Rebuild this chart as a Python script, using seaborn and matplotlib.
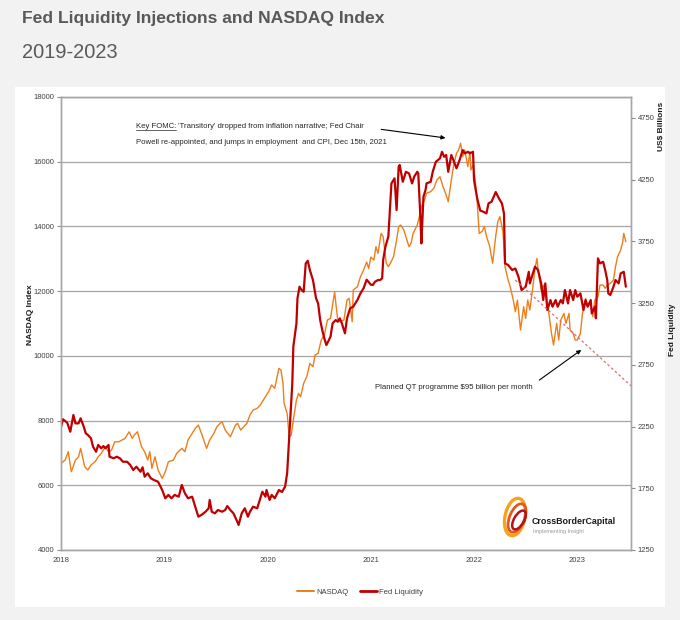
import numpy as np
import pandas as pd
import seaborn as sns
import matplotlib.pyplot as plt
from matplotlib.patches import Rectangle, Ellipse
from matplotlib.lines import Line2D

# NASDAQ index (left axis), decimal years
nasdaq_t = [2018.00, 2018.04, 2018.07, 2018.10, 2018.14, 2018.17, 2018.19, 2018.23, 2018.26, 2018.29,
            2018.33, 2018.36, 2018.39, 2018.43, 2018.46, 2018.49, 2018.52, 2018.56, 2018.59, 2018.62,
            2018.66, 2018.69, 2018.71, 2018.74, 2018.78, 2018.81, 2018.84, 2018.86, 2018.88, 2018.91,
            2018.94, 2018.98, 2019.01, 2019.04, 2019.09, 2019.12, 2019.17, 2019.20, 2019.23, 2019.27,
            2019.30, 2019.33, 2019.36, 2019.41, 2019.44, 2019.48, 2019.51, 2019.54, 2019.56, 2019.59,
            2019.64, 2019.69, 2019.71, 2019.74, 2019.80, 2019.83, 2019.86, 2019.90, 2019.93, 2019.98,
            2020.01, 2020.04, 2020.07, 2020.11, 2020.13, 2020.15, 2020.16, 2020.19, 2020.21, 2020.23,
            2020.25, 2020.28, 2020.30, 2020.32, 2020.35, 2020.38, 2020.41, 2020.44, 2020.46, 2020.49,
            2020.52, 2020.55, 2020.58, 2020.61, 2020.65, 2020.66, 2020.68, 2020.70, 2020.74, 2020.77,
            2020.79, 2020.82, 2020.83, 2020.87, 2020.90, 2020.93, 2020.96, 2020.98, 2021.00, 2021.03,
            2021.05, 2021.07, 2021.10, 2021.12, 2021.15, 2021.17, 2021.19, 2021.22, 2021.25, 2021.27,
            2021.29, 2021.32, 2021.34, 2021.37, 2021.39, 2021.41, 2021.45, 2021.47, 2021.49, 2021.52,
            2021.54, 2021.58, 2021.61, 2021.64, 2021.67, 2021.70, 2021.73, 2021.75, 2021.78, 2021.80,
            2021.83, 2021.85, 2021.87, 2021.89, 2021.91, 2021.94, 2021.96, 2021.97, 2021.99, 2022.01,
            2022.03, 2022.05, 2022.08, 2022.10, 2022.12, 2022.15, 2022.18, 2022.21, 2022.23, 2022.25,
            2022.28, 2022.30, 2022.33, 2022.35, 2022.38, 2022.40, 2022.42, 2022.45, 2022.48, 2022.50,
            2022.52, 2022.54, 2022.57, 2022.59, 2022.61, 2022.62, 2022.65, 2022.67, 2022.70, 2022.72,
            2022.75, 2022.77, 2022.80, 2022.82, 2022.84, 2022.87, 2022.89, 2022.92, 2022.93, 2022.96,
            2022.98, 2023.00, 2023.03, 2023.05, 2023.08, 2023.10, 2023.13, 2023.15, 2023.17, 2023.20,
            2023.22, 2023.25, 2023.27, 2023.29, 2023.32, 2023.35, 2023.37, 2023.39, 2023.42, 2023.44,
            2023.45, 2023.47]
nasdaq_v = [6677, 6780, 7037, 6418, 6780, 6882, 7141, 6572, 6471, 6625,
            6727, 6882, 6987, 7191, 7037, 7089, 7345, 7345, 7398, 7450,
            7654, 7450, 7552, 7654, 7191, 7037, 6780, 7037, 6523, 6882,
            6471, 6214, 6418, 6727, 6780, 6987, 7141, 7037, 7398, 7605,
            7759, 7862, 7605, 7141, 7398, 7605, 7809, 7914, 7964, 7707,
            7500, 7862, 7914, 7707, 7914, 8171, 8325, 8378, 8480, 8736,
            8891, 9100, 8996, 9614, 9562, 9150, 8532, 8223, 7500, 7552,
            8016, 8634, 8841, 8736, 9150, 9355, 9768, 9665, 10025, 10077,
            10489, 10643, 11107, 11159, 11982, 11673, 11107, 11055, 11107, 11725,
            11776, 11055, 12034, 12136, 12446, 12650, 12900, 12700, 13050, 12962,
            13373, 13168, 13786, 13682, 12862, 12755, 12862, 13064, 13580, 13992,
            14044, 13889, 13682, 13373, 13478, 13786, 14044, 14301, 14610, 14816,
            15023, 15075, 15177, 15434, 15537, 15229, 14971, 14765, 15434, 15846,
            16259, 16362, 16568, 16155, 16362, 15846, 16310, 15744, 15898, 15487,
            14765, 13786, 13850, 14000, 13700, 13400, 12862, 13700, 14146, 14301,
            13838, 12755, 12343, 12137, 11725, 11364, 11725, 10798, 11519, 11159,
            11725, 11416, 12137, 12705, 13014, 12652, 12034, 12189, 11725, 11416,
            10695, 10334, 11004, 10489, 11107, 11313, 11004, 11313, 10798, 10695,
            10489, 10489, 10695, 11313, 11777, 11519, 11622, 11210, 11725, 11828,
            12189, 12189, 12086, 12189, 12240, 12343, 12755, 13064, 13271, 13527,
            13786, 13527]

# Fed liquidity, US$ billions (right axis)
liq_t = [2018.00, 2018.02, 2018.06, 2018.09, 2018.12, 2018.14, 2018.17, 2018.19, 2018.22, 2018.24,
         2018.26, 2018.29, 2018.31, 2018.34, 2018.36, 2018.39, 2018.41, 2018.43, 2018.46, 2018.47,
         2018.51, 2018.54, 2018.57, 2018.60, 2018.64, 2018.67, 2018.70, 2018.73, 2018.77, 2018.79,
         2018.81, 2018.84, 2018.87, 2018.90, 2018.94, 2018.98, 2019.01, 2019.04, 2019.07, 2019.10,
         2019.14, 2019.17, 2019.20, 2019.23, 2019.27, 2019.30, 2019.33, 2019.36, 2019.40, 2019.43,
         2019.44, 2019.46, 2019.49, 2019.52, 2019.56, 2019.59, 2019.61, 2019.64, 2019.67, 2019.70,
         2019.72, 2019.75, 2019.78, 2019.81, 2019.83, 2019.86, 2019.90, 2019.93, 2019.95, 2019.98,
         2019.99, 2020.02, 2020.04, 2020.07, 2020.11, 2020.14, 2020.17, 2020.19, 2020.21, 2020.24,
         2020.25, 2020.28, 2020.29, 2020.31, 2020.33, 2020.35, 2020.37, 2020.39, 2020.41, 2020.44,
         2020.47, 2020.49, 2020.51, 2020.53, 2020.55, 2020.57, 2020.61, 2020.63, 2020.66, 2020.68,
         2020.70, 2020.72, 2020.74, 2020.75, 2020.77, 2020.80, 2020.83, 2020.87, 2020.90, 2020.93,
         2020.96, 2021.00, 2021.02, 2021.04, 2021.07, 2021.09, 2021.11, 2021.12, 2021.14, 2021.16,
         2021.17, 2021.20, 2021.23, 2021.25, 2021.27, 2021.28, 2021.31, 2021.34, 2021.37, 2021.40,
         2021.42, 2021.45, 2021.46, 2021.48, 2021.49, 2021.51, 2021.53, 2021.54, 2021.58, 2021.60,
         2021.63, 2021.67, 2021.69, 2021.71, 2021.73, 2021.75, 2021.78, 2021.80, 2021.83, 2021.86,
         2021.89, 2021.91, 2021.94, 2021.96, 2021.99, 2022.00, 2022.03, 2022.06, 2022.09, 2022.12,
         2022.14, 2022.17, 2022.21, 2022.24, 2022.27, 2022.29, 2022.30, 2022.33, 2022.37, 2022.40,
         2022.43, 2022.46, 2022.50, 2022.53, 2022.54, 2022.56, 2022.59, 2022.62, 2022.65, 2022.67,
         2022.69, 2022.71, 2022.74, 2022.76, 2022.79, 2022.81, 2022.84, 2022.86, 2022.88, 2022.91,
         2022.93, 2022.96, 2022.98, 2023.00, 2023.03, 2023.06, 2023.08, 2023.10, 2023.13, 2023.14,
         2023.17, 2023.18, 2023.20, 2023.22, 2023.25, 2023.27, 2023.29, 2023.30, 2023.32, 2023.35,
         2023.37, 2023.40, 2023.42, 2023.45, 2023.47]
liq_v = [2249, 2309, 2281, 2208, 2344, 2276, 2276, 2317, 2249, 2195,
         2182, 2155, 2087, 2046, 2101, 2074, 2092, 2074, 2101, 2006,
         1993, 2006, 1993, 1965, 1965, 1939, 1898, 1925, 1884, 1920,
         1844, 1871, 1831, 1817, 1803, 1736, 1669, 1696, 1669, 1696,
         1682, 1777, 1709, 1669, 1682, 1601, 1520, 1534, 1560, 1588,
         1655, 1560, 1547, 1574, 1560, 1574, 1606, 1574, 1547, 1493,
         1453, 1547, 1588, 1520, 1560, 1601, 1588, 1669, 1722, 1682,
         1736, 1655, 1696, 1669, 1736, 1720, 1763, 1871, 2168, 2600,
         2897, 3086, 3289, 3383, 3356, 3342, 3572, 3593, 3518, 3437,
         3289, 3248, 3113, 3032, 2965, 2910, 2978, 3086, 3113, 3099,
         3127, 3086, 3032, 3005, 3127, 3208, 3221, 3275, 3329, 3370,
         3440, 3400, 3397, 3423, 3437, 3437, 3451, 3600, 3700, 3761,
         3788, 4220, 4261, 4004, 4355, 4369, 4233, 4314, 4301, 4220,
         4274, 4314, 4301, 3950, 3734, 4112, 4166, 4220, 4233, 4314,
         4395, 4423, 4476, 4436, 4450, 4314, 4450, 4409, 4342, 4409,
         4490, 4463, 4476, 4463, 4476, 4247, 4100, 4000, 3990, 3977,
         4058, 4072, 4150, 4100, 4058, 3977, 3572, 3559, 3518, 3531,
         3464, 3356, 3383, 3504, 3410, 3464, 3545, 3518, 3410, 3275,
         3410, 3194, 3275, 3221, 3275, 3221, 3275, 3248, 3356, 3248,
         3356, 3275, 3356, 3302, 3329, 3194, 3275, 3221, 3275, 3167,
         3221, 3127, 3613, 3572, 3585, 3518, 3437, 3329, 3316, 3383,
         3437, 3410, 3491, 3504, 3383]

# planned QT run-off path (dashed)
qt_t = [2022.40, 2023.52]
qt_v = [3437, 2580]

years = [2018, 2019, 2020, 2021, 2022, 2023]
nasdaq_ticks = [4000, 6000, 8000, 10000, 12000, 14000, 16000, 18000]
liq_ticks = [1250, 1750, 2250, 2750, 3250, 3750, 4250, 4750]

ORANGE = "#EF7D1A"
RED = "#C00000"
GREY = "#595959"
ARIAL = ["Liberation Sans", "DejaVu Sans"]

sns.set_style("white")
plt.rcParams["font.family"] = ARIAL

W, H = 680, 620


def fx(x):
    return x / W


def fy(y):
    return 1 - y / H


fig = plt.figure(figsize=(6.8, 6.2), dpi=100, facecolor="#f2f2f2")
fig.patches.append(Rectangle((fx(15), fy(607)), 650 / W, 520 / H, transform=fig.transFigure,
                             facecolor="white", edgecolor="none", zorder=-10))

fig.text(fx(22), fy(23), "Fed Liquidity Injections and NASDAQ Index", fontsize=12.6,
         fontweight="bold", color=GREY, va="baseline")
fig.text(fx(22), fy(58), "2019-2023", fontsize=14.4, color=GREY, va="baseline")

ax = fig.add_axes([fx(61), fy(550), 570 / W, 453 / H])
ax2 = ax.twinx()
ax.set_zorder(1)
ax2.set_zorder(2)
ax.patch.set_visible(False)

nasdaq = pd.DataFrame({"t": nasdaq_t, "v": nasdaq_v})
liq = pd.DataFrame({"t": liq_t, "v": liq_v})

sns.lineplot(data=nasdaq, x="t", y="v", ax=ax, color=ORANGE, lw=1.0,
             estimator=None, sort=False, legend=False)
sns.lineplot(data=liq, x="t", y="v", ax=ax2, color=RED, lw=1.6,
             estimator=None, sort=False, legend=False)
sns.lineplot(x=qt_t, y=qt_v, ax=ax2, color="#dd6a6a", lw=0.9, linestyle=(0, (2, 2)),
             estimator=None, legend=False)

ax.set_xlim(2018, 2023.52)
ax.set_ylim(4000, 18000)
ax2.set_ylim(1250, 4920)
ax.set_xticks(years)
ax.set_xticklabels([str(y) for y in years])
ax.set_yticks(nasdaq_ticks)
ax2.set_yticks(liq_ticks)
ax.set_xlabel("")
ax.set_ylabel("")
ax2.set_ylabel("")
ax.grid(axis="y", color="#a6a6a6", lw=0.9)
ax.grid(axis="x", visible=False)

for a in (ax, ax2):
    for s in a.spines.values():
        s.set_color("#a6a6a6")
        s.set_linewidth(1.0)
    a.tick_params(direction="out", length=3, width=0.8, color="#8c8c8c",
                  labelsize=5.5, labelcolor="#404040", pad=2)

# axis titles
fig.text(fx(30), fy(315), "NASDAQ Index", rotation=90, fontsize=6, fontweight="bold",
         ha="center", va="center", color="#1a1a1a")
fig.text(fx(662), fy(126), "US$ Billions", rotation=90, fontsize=6, fontweight="bold",
         ha="center", va="center", color="#1a1a1a")
fig.text(fx(672), fy(330), "Fed Liquidity", rotation=90, fontsize=6, fontweight="bold",
         ha="center", va="center", color="#1a1a1a")

# annotations
TXT = 5.6
k = fig.text(fx(136), fy(128), "Key FOMC:", fontsize=TXT, color="#262626", va="baseline")
fig.canvas.draw()
bb = k.get_window_extent()
fig.add_artist(Line2D([bb.x0 / fig.dpi, bb.x1 / fig.dpi], [(H - 129.5) / 100, (H - 129.5) / 100],
                      transform=fig.dpi_scale_trans, color="#262626", lw=0.5))
fig.text(bb.x1 / W, fy(128), " 'Transitory' dropped from inflation narrative; Fed Chair",
         fontsize=TXT, color="#262626", va="baseline")
fig.text(fx(136), fy(144), "Powell re-appointed, and jumps in employment  and CPI, Dec 15th, 2021",
         fontsize=TXT, color="#262626", va="baseline")
ax.annotate("", xy=(2021.75, 16723), xytext=(2021.075, 17011),
            arrowprops=dict(arrowstyle="-|>", color="black", lw=0.8, mutation_scale=6))

fig.text(fx(375), fy(389), "Planned QT programme $95 billion per month",
         fontsize=TXT, color="#262626", va="baseline")
ax.annotate("", xy=(2023.06, 10233), xytext=(2022.61, 9201),
            arrowprops=dict(arrowstyle="-|>", color="black", lw=0.8, mutation_scale=6))

# CrossBorder Capital logo
for (cx, cy, w, h, ang, col, lw) in [(515, 517, 20, 38, -12, "#f6a21d", 2.4),
                                     (517, 518, 15, 30, -22, "#e8561d", 2.0),
                                     (519, 520, 10, 21, -30, "#b5121b", 1.8)]:
    fig.patches.append(Ellipse((cx / 100, (H - cy) / 100), w / 100, h / 100, angle=ang,
                               transform=fig.dpi_scale_trans, fill=False,
                               edgecolor=col, lw=lw, zorder=5))
fig.text(fx(532), fy(522), "CrossBorderCapital", fontsize=6.4, color="#1a1a1a",
         fontweight="bold", va="center")
fig.text(fx(533), fy(531), "Implementing Insight", fontsize=4.0, color="#9a9a9a", va="center")

# legend
handles = [Line2D([], [], color=ORANGE, lw=1.4), Line2D([], [], color=RED, lw=2.0)]
fig.legend(handles, ["NASDAQ", "Fed Liquidity"], loc="center", bbox_to_anchor=(fx(360), fy(592)),
           ncol=2, frameon=False, fontsize=5.5, handlelength=2.2, columnspacing=1.5,
           handletextpad=0.3, labelcolor="#404040")

fig.savefig("out.png", dpi=100, facecolor=fig.get_facecolor())
